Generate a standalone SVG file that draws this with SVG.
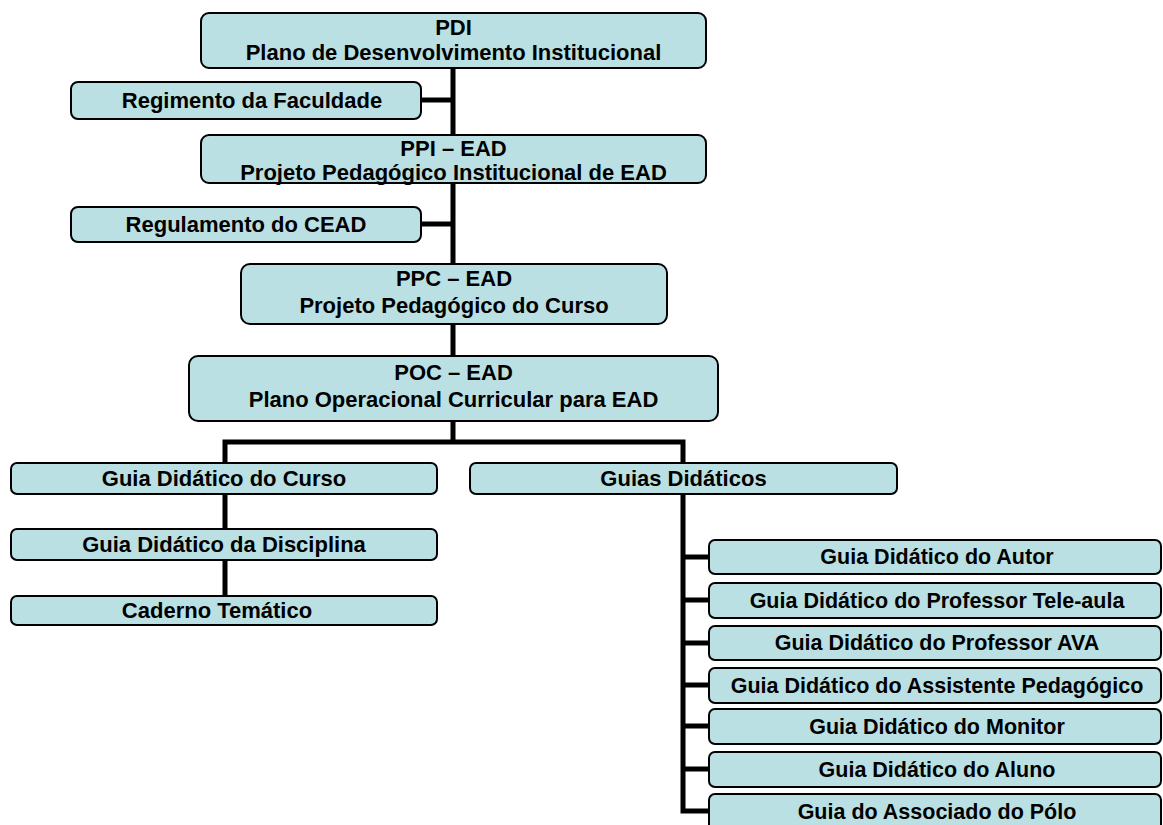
<svg xmlns="http://www.w3.org/2000/svg" width="1163" height="825" viewBox="0 0 1163 825">
  <style>
    .box { fill: #BAE0E3; stroke: #000; stroke-width: 2; }
    .lbl { font-family: "Liberation Sans", Arial, sans-serif; font-weight: bold; font-size: 22px; fill: #000; text-anchor: middle; }
    .sub { font-size: 21.5px; }
    .wire { fill: none; stroke: #000; stroke-width: 5; stroke-linejoin: miter; stroke-linecap: butt; }
  </style>
  <rect width="1163" height="825" fill="#fff"/>

  <!-- connectors, drawn under the boxes -->
  <g id="connectors">
    <path class="wire" d="M453 68 V442"/>
    <path class="wire" d="M421 100 H453"/>
    <path class="wire" d="M421 224 H453"/>
    <path class="wire" d="M225 596 V442 H683 V811 H709"/>
    <path class="wire" d="M683 557 H709 M683 600 H709 M683 643 H709 M683 685 H709 M683 726 H709 M683 769 H709"/>
  </g>

  <g id="pdi">
    <rect class="box" x="201" y="13" width="505" height="55" rx="8"/>
    <text class="lbl" x="453.5" y="35">PDI</text>
    <text class="lbl" x="453.5" y="60">Plano de Desenvolvimento Institucional</text>
  </g>
  <g id="regimento">
    <rect class="box" x="71" y="82" width="350" height="37" rx="7"/>
    <text class="lbl" x="252" y="108">Regimento da Faculdade</text>
  </g>
  <g id="ppi">
    <rect class="box" x="201" y="135" width="505" height="48" rx="8"/>
    <text class="lbl" x="453.5" y="156">PPI – EAD</text>
    <text class="lbl" x="453.5" y="180">Projeto Pedagógico Institucional de EAD</text>
  </g>
  <g id="regulamento">
    <rect class="box" x="71" y="207" width="350" height="35" rx="7"/>
    <text class="lbl" x="246" y="232">Regulamento do CEAD</text>
  </g>
  <g id="ppc">
    <rect class="box" x="241" y="264" width="426" height="60" rx="9"/>
    <text class="lbl" x="454" y="286">PPC – EAD</text>
    <text class="lbl" x="454" y="313">Projeto Pedagógico do Curso</text>
  </g>
  <g id="poc">
    <rect class="box" x="189" y="356" width="529" height="65" rx="9"/>
    <text class="lbl" x="453.5" y="380">POC – EAD</text>
    <text class="lbl" x="453.5" y="407">Plano Operacional Curricular para EAD</text>
  </g>
  <g id="guia-curso">
    <rect class="box" x="11" y="463" width="426" height="31" rx="6"/>
    <text class="lbl" x="224" y="486">Guia Didático do Curso</text>
  </g>
  <g id="guias-didaticos">
    <rect class="box" x="470" y="463" width="427" height="31" rx="6"/>
    <text class="lbl" x="683.5" y="486">Guias Didáticos</text>
  </g>
  <g id="guia-disciplina">
    <rect class="box" x="11" y="529" width="426" height="31" rx="6"/>
    <text class="lbl" x="224" y="552">Guia Didático da Disciplina</text>
  </g>
  <g id="caderno">
    <rect class="box" x="11" y="596" width="426" height="29" rx="6"/>
    <text class="lbl" x="217" y="618">Caderno Temático</text>
  </g>
  <g id="guia-autor">
    <rect class="box" x="709" y="540" width="452" height="34" rx="6"/>
    <text class="lbl sub" x="937" y="564">Guia Didático do Autor</text>
  </g>
  <g id="guia-prof-teleaula">
    <rect class="box" x="709" y="583" width="452" height="35" rx="6"/>
    <text class="lbl sub" x="937" y="608">Guia Didático do Professor Tele-aula</text>
  </g>
  <g id="guia-prof-ava">
    <rect class="box" x="709" y="626" width="452" height="34" rx="6"/>
    <text class="lbl sub" x="937" y="650">Guia Didático do Professor AVA</text>
  </g>
  <g id="guia-assistente">
    <rect class="box" x="709" y="668" width="452" height="35" rx="6"/>
    <text class="lbl sub" x="937" y="693">Guia Didático do Assistente Pedagógico</text>
  </g>
  <g id="guia-monitor">
    <rect class="box" x="709" y="709" width="452" height="35" rx="6"/>
    <text class="lbl sub" x="937" y="734">Guia Didático do Monitor</text>
  </g>
  <g id="guia-aluno">
    <rect class="box" x="709" y="752" width="452" height="35" rx="6"/>
    <text class="lbl sub" x="937" y="777">Guia Didático do Aluno</text>
  </g>
  <g id="guia-polo">
    <rect class="box" x="709" y="794" width="452" height="40" rx="6"/>
    <text class="lbl sub" x="937" y="819">Guia do Associado do Pólo</text>
  </g>
</svg>
